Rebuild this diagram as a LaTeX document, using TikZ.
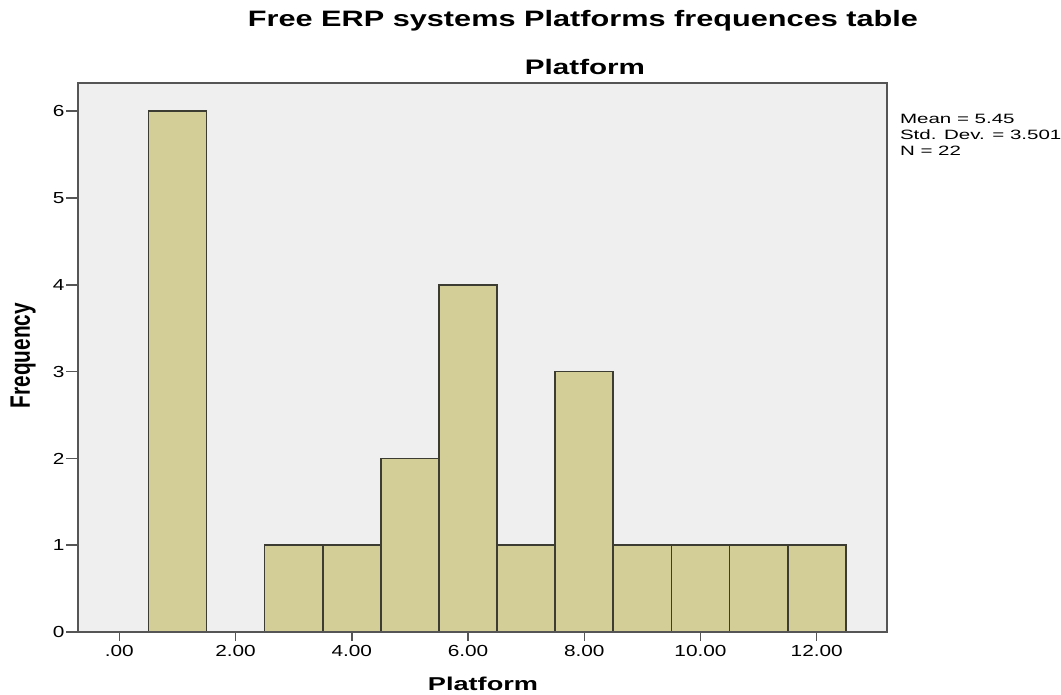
\documentclass[tikz,border=0pt]{standalone}
\usepackage{fontspec}
\setmainfont{Liberation Sans}
\usepackage{graphicx}
\definecolor{plotbg}{RGB}{239,239,239}
\definecolor{barfill}{RGB}{211,206,151}
\definecolor{framegray}{RGB}{85,85,85}
\definecolor{bargray}{RGB}{60,60,50}
\newcommand\sxx[2]{\scalebox{#1}[1]{#2}}
\begin{document}
\begin{tikzpicture}[x=1pt,y=-1pt,
  lbl/.style={inner sep=0pt, outer sep=0pt, text=black},
  titlelbl/.style={lbl, anchor=base, font=\fontsize{22.3}{26}\selectfont\bfseries},
  sublbl/.style={lbl, anchor=base, font=\fontsize{21}{25}\selectfont\bfseries},
  axlbl/.style={lbl, anchor=base, font=\fontsize{18.6}{22}\selectfont\bfseries},
  ticklbl/.style={lbl, font=\fontsize{16}{19}\selectfont},
  statlbl/.style={lbl, anchor=base west, font=\fontsize{13.5}{16}\selectfont},
  bar/.style={fill=barfill, draw=bargray, line width=1.7pt},
  frameline/.style={draw=framegray, line width=1.9pt},
  tickline/.style={draw=framegray, line width=1.5pt}]
\useasboundingbox[fill=white] (0,0) rectangle (1061,694);
% plot area
\fill[plotbg] (78,83) rectangle (887,632);
\begin{scope}[shift={(119.3,632)}]
\begin{scope}[x=58.12pt,y=86.8pt]
  \foreach \v/\n in {1/6,3/1,4/1,5/2,6/4,7/1,8/3,9/1,10/1,11/1,12/1}
    \draw[bar] (\v-0.5,0) rectangle (\v+0.5,\n);
  \foreach \v/\t in {0/.00,2/2.00,4/4.00,6/6.00,8/8.00,10/10.00,12/12.00}{
    \draw[tickline] (\v,0) -- ++(0,-9pt);
    \node[ticklbl, anchor=base] (xl\v) at ([yshift=-24.7pt]\v,0) {\sxx{1.3}{\t}};
  }
\end{scope}
\end{scope}
\draw[frameline] (78,83) rectangle (887,632);
% y ticks
\foreach \k in {0,...,6}{
  \draw[tickline] (66,{632-86.8*\k}) -- (78,{632-86.8*\k});
  \node[ticklbl, anchor=base east] (yl\k) at (64.5,{632-86.8*\k+5.6}) {\sxx{1.3}{\k}};
}
% titles
\node[titlelbl] (title) at (583,26) {\sxx{1.376}{Free ERP systems Platforms frequences table}};
\node[sublbl] (subtitle) at (585,74.3) {\sxx{1.41}{Platform}};
\node[axlbl] (xlabel) at (483,690) {\sxx{1.46}{Platform}};
\node[lbl, anchor=base, rotate=90, font=\fontsize{20.8}{24}\selectfont\bfseries] (ylabel) at (30,355.5) {\scalebox{1}[1.35]{Frequency}};
% stats
\node[statlbl] (mean) at (900,123.3) {\sxx{1.52}{Mean = 5.45}};
\node[statlbl] (sd) at (900,139) {\sxx{1.52}{Std. Dev. = 3.501}};
\node[statlbl] (n) at (900,155) {\sxx{1.52}{N = 22}};
\end{tikzpicture}
\end{document}
